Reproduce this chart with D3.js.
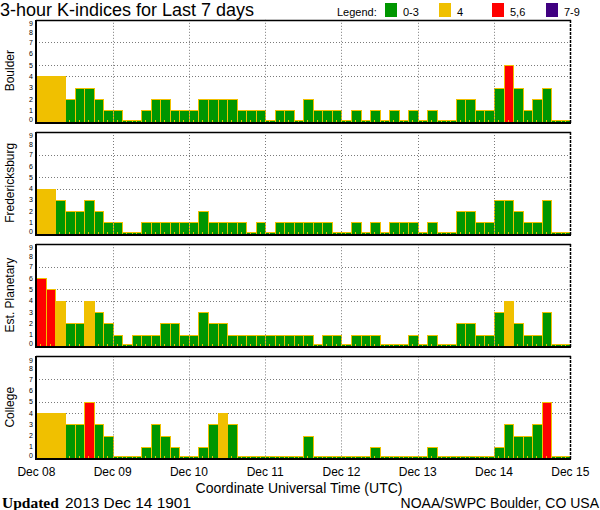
<!DOCTYPE html>
<html>
<head>
<meta charset="utf-8">
<script src="https://cdn.jsdelivr.net/npm/d3@7/dist/d3.min.js"></script>
<style>
  html, body { margin: 0; padding: 0; background: #fff; }
  svg { display: block; }
  text { font-family: "Liberation Sans", Arial, sans-serif; fill: #000; }
</style>
</head>
<body>
<svg id="chart" width="600" height="510"></svg>
<script>
// ---------------- DATA ----------------
const titleText = "3-hour K-indices for Last 7 days";
const stations = ["Boulder", "Fredericksburg", "Est. Planetary", "College"];
const boulder        = [4,4,4,2,3,3,2,1, 1,0,0,1,2,2,1,1, 1,2,2,2,2,1,1,1, 0,1,1,0,2,1,1,1, 0,1,0,1,0,1,0,1, 0,1,0,0,2,2,1,1, 3,5,3,1,2,3,0,0];
const fredericksburg = [4,4,3,2,2,3,2,1, 1,0,0,1,1,1,1,1, 1,2,1,1,1,1,0,1, 0,1,1,1,1,1,1,0, 0,1,0,1,0,1,1,1, 0,1,0,0,2,2,1,1, 3,3,2,1,1,3,0,0];
const planetary      = [6,5,4,2,2,4,3,2, 1,0,1,1,1,2,2,1, 1,3,2,2,1,1,1,1, 1,1,1,1,1,0,1,1, 0,1,1,1,0,0,0,1, 0,1,0,0,2,2,1,1, 3,4,2,1,1,3,0,0];
const college        = [4,4,4,3,3,5,3,2, 0,0,0,1,3,2,1,0, 0,1,3,4,3,0,0,0, 0,0,0,0,2,0,0,0, 0,0,0,1,0,0,0,0, 0,1,0,0,0,0,0,0, 1,3,2,2,3,5,0,0];
const seriesValues = [boulder, fredericksburg, planetary, college];
const yTickValues = [0,1,2,3,4,5,6,7,8,9];
const gridLevels = [4,5,7];
const legendLabels = ["0-3", "4", "5,6", "7-9"];
const legendThresholds = [4,5,7];
const xAxisTitle = "Coordinate Universal Time (UTC)";
const updatedLabel = "Updated";
const updatedValue = "2013 Dec 14 1901";
const creditText = "NOAA/SWPC Boulder, CO USA";
const startDate = Date.UTC(2013, 11, 8);
const endDate = Date.UTC(2013, 11, 15);

// ---------------- STYLE ----------------
const colors = ["#009600", "#f0c000", "#ff0000", "#400080"];
const outline = "#f0c000";
const gridColor = "#7a7a7a";

const svg = d3.select("#chart");
const H3 = 3 * 3600 * 1000;

const x = d3.scaleUtc().domain([startDate, endDate]).range([36.4, 570.3]);
const color = d3.scaleThreshold().domain(legendThresholds).range(colors);
const dayTicks = x.ticks(d3.utcDay.every(1));
const fmt = d3.utcFormat("%b %d");

const panelBottom0 = 121.5, panelStep = 112.2, panelHeight = 101.7;
const xl = Math.round(x.range()[0]), xr = Math.round(x.range()[1]);

// Title
svg.append("text").attr("x", 0).attr("y", 15.5).attr("font-size", 17.5)
  .attr("textLength", 254).attr("lengthAdjust", "spacingAndGlyphs").text(titleText);

// Legend
svg.append("text").attr("x", 337).attr("y", 16).attr("font-size", 11).text("Legend:");
const legendX = d3.scalePoint().domain(legendLabels).range([385, 546]);
const lg = svg.append("g").selectAll("g").data(legendLabels).join("g")
  .attr("transform", d => `translate(${Math.round(legendX(d))},3)`);
lg.append("rect").attr("width", 12).attr("height", 14)
  .attr("fill", (d, i) => colors[i]);
lg.append("text").attr("x", 18).attr("y", 13).attr("font-size", 11).text(d => d);

seriesValues.forEach((vals, p) => {
  const bottom = panelBottom0 + p * panelStep;
  const top = bottom - panelHeight;
  const y = d3.scaleLinear().domain([0, 9]).range([bottom, top]);
  const g = svg.append("g");

  // horizontal dotted grid (behind bars)
  g.selectAll(".hg").data(gridLevels).join("line")
    .attr("x1", xl).attr("x2", xr)
    .attr("y1", d => Math.round(y(d)) + 0.5).attr("y2", d => Math.round(y(d)) + 0.5)
    .attr("stroke", gridColor).attr("stroke-dasharray", "1,2");

  // bars
  const data = vals.map((v, i) => ({ v, t: startDate + i * H3 }));
  g.selectAll(".bar").data(data).join("rect")
    .attr("x", d => Math.round(x(d.t)) + 0.5)
    .attr("width", d => Math.round(x(d.t + H3)) - Math.round(x(d.t)))
    .attr("y", d => Math.round(y(Math.max(d.v, 0.15))) + 0.5)
    .attr("height", d => Math.round(bottom) - Math.round(y(Math.max(d.v, 0.15))))
    .attr("fill", d => color(d.v))
    .attr("stroke", outline).attr("stroke-width", 1)
    .attr("shape-rendering", "crispEdges");

  // tiny bottom ticks
  g.selectAll(".tk").data(data).join("line")
    .attr("x1", d => Math.round(x(d.t)) + 4.5).attr("x2", d => Math.round(x(d.t)) + 4.5)
    .attr("y1", Math.round(bottom)).attr("y2", Math.round(bottom) - 2)
    .attr("stroke", outline);

  // vertical day lines (on top)
  g.selectAll(".vg").data(dayTicks.slice(1, -1)).join("line")
    .attr("x1", d => Math.round(x(d)) + 0.5).attr("x2", d => Math.round(x(d)) + 0.5)
    .attr("y1", top).attr("y2", bottom)
    .attr("stroke", gridColor).attr("stroke-dasharray", "1,2");

  // frame
  g.append("line").attr("x1", xl).attr("x2", xr + 1)
    .attr("y1", Math.round(top) + 0.5).attr("y2", Math.round(top) + 0.5)
    .attr("stroke", "#000").attr("stroke-width", 1.5);
  g.append("line").attr("x1", xl).attr("x2", xr + 1)
    .attr("y1", Math.round(bottom) + 1).attr("y2", Math.round(bottom) + 1)
    .attr("stroke", "#000").attr("stroke-width", 2);
  g.append("line").attr("x1", xl).attr("x2", xl)
    .attr("y1", Math.round(top)).attr("y2", Math.round(bottom) + 2)
    .attr("stroke", "#000").attr("stroke-width", 2);
  g.append("line").attr("x1", xr + 0.5).attr("x2", xr + 0.5)
    .attr("y1", Math.round(top)).attr("y2", Math.round(bottom) + 2)
    .attr("stroke", "#000").attr("stroke-width", 1.5).attr("stroke-dasharray", "3,1");

  // y tick labels
  g.selectAll(".yl").data(yTickValues).join("text")
    .attr("x", 33).attr("text-anchor", "end").attr("font-size", 7)
    .attr("y", d => y(d) + (d === 0 ? 0 : d === 9 ? 6.2 : d === 8 ? 3.4 : 2.6))
    .text(d => d);

  // station label
  g.append("text")
    .attr("transform", `translate(14,${(top + bottom) / 2}) rotate(-90)`)
    .attr("text-anchor", "middle").attr("font-size", 12)
    .text(stations[p]);
});

// x axis labels
svg.append("g").selectAll("text").data(dayTicks).join("text")
  .attr("x", d => x(d)).attr("y", 476).attr("text-anchor", "middle")
  .attr("font-size", 12).text(d => fmt(d));

svg.append("text").attr("x", 299).attr("y", 493).attr("text-anchor", "middle")
  .attr("font-size", 14).text(xAxisTitle);

svg.append("text").attr("x", 2).attr("y", 508)
  .attr("font-weight", "bold").attr("font-size", 15.5)
  .style("font-family", "'Liberation Serif', serif").text(updatedLabel);
svg.append("text").attr("x", 65).attr("y", 508).attr("font-size", 14)
  .attr("textLength", 126).attr("lengthAdjust", "spacingAndGlyphs").text(updatedValue);
svg.append("text").attr("x", 599).attr("y", 508).attr("text-anchor", "end")
  .attr("font-size", 14).text(creditText);
</script>
</body>
</html>
